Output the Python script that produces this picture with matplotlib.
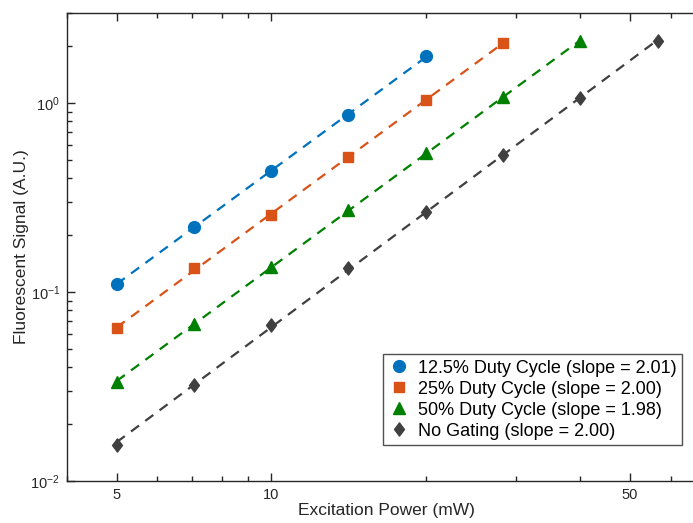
import numpy as np
import matplotlib
matplotlib.use("Agg")
import matplotlib.pyplot as plt
from matplotlib.path import Path
from matplotlib.ticker import LogLocator, NullFormatter, FixedLocator, FixedFormatter

plt.rcParams["font.family"] = ["Liberation Sans", "DejaVu Sans"]
plt.rcParams["mathtext.fontset"] = "custom"
plt.rcParams["mathtext.rm"] = "Liberation Sans"

# excitation power (mW) and fluorescent signal (A.U.)
power = [5.0, 7.07, 10.0, 14.14, 20.0, 28.28, 40.0, 56.57]
sig_125 = [0.111, 0.220, 0.437, 0.867, 1.77]
sig_25 = [0.0644, 0.1336, 0.255, 0.519, 1.04, 2.08]
sig_50 = [0.0336, 0.0674, 0.1355, 0.272, 0.545, 1.08, 2.12]
sig_none = [0.01555, 0.0324, 0.0667, 0.134, 0.265, 0.532, 1.07, 2.12]

labels = ["12.5% Duty Cycle (slope = 2.01)",
          "25% Duty Cycle (slope = 2.00)",
          "50% Duty Cycle (slope = 1.98)",
          "No Gating (slope = 2.00)"]
colors = ["#0072BD", "#D95319", "#008000", "#404040"]

# MATLAB-like diamond, a bit wider than matplotlib's thin one
diamond = Path([(0, 1), (0.75, 0), (0, -1), (-0.75, 0), (0, 1)],
               [Path.MOVETO, Path.LINETO, Path.LINETO, Path.LINETO, Path.CLOSEPOLY])
markers = ["o", "s", "^", diamond]
msizes = [8.5, 6.5, 8.5, 9.5]

W, H = 693, 523
fig = plt.figure(figsize=(W / 100, H / 100), dpi=100)
ax = fig.add_axes([67 / W, 42 / H, (705 - 67) / W, (481 - 13) / H])

for sig, c, m, ms, lab in zip([sig_125, sig_25, sig_50, sig_none], colors, markers, msizes, labels):
    x = np.array(power[:len(sig)])
    y = np.array(sig)
    # linear fit in log-log space
    k, b = np.polyfit(np.log10(x), np.log10(y), 1)
    ax.plot(x, 10 ** (k * np.log10(x) + b), "--", color=c, lw=1.6, dashes=(4.5, 3.5))
    ax.plot(x, y, linestyle="none", marker=m, color=c, ms=ms, mec=c, label=lab)

ax.set_xscale("log")
ax.set_yscale("log")
ax.set_xlim(4, 70)
ax.set_ylim(0.01, 3)

ax.xaxis.set_major_locator(FixedLocator([5, 10, 50]))
ax.xaxis.set_major_formatter(FixedFormatter(["5", "10", "50"]))
ax.xaxis.set_minor_locator(FixedLocator([4, 6, 7, 8, 9, 20, 30, 40, 60, 70]))
ax.xaxis.set_minor_formatter(NullFormatter())
ax.yaxis.set_major_locator(LogLocator(base=10))
ax.yaxis.set_minor_locator(LogLocator(base=10, subs=np.arange(2, 10)))
ax.yaxis.set_minor_formatter(NullFormatter())

ax.tick_params(which="both", direction="in", top=True, right=True,
               colors="#262626", labelsize=10.5, width=1)
ax.tick_params(which="major", length=6, pad=5)
ax.tick_params(which="minor", length=3.5)
for sp in ax.spines.values():
    sp.set_color("#262626")
    sp.set_linewidth(1)

ax.set_xlabel("Excitation Power (mW)", fontsize=12.5, color="#262626", labelpad=1)
ax.set_ylabel("Fluorescent Signal (A.U.)", fontsize=12.5, color="#262626", labelpad=1)

x0 = (383 - 67) / (705 - 67)
y0 = (481 - 445) / (481 - 13)
leg = ax.legend(loc="lower left", bbox_to_anchor=(x0, y0), borderaxespad=0,
                fontsize=13, frameon=True, fancybox=False, handletextpad=0.45,
                handlelength=1.2, borderpad=0.3, labelspacing=0.22)
leg.get_frame().set_edgecolor("#262626")
leg.get_frame().set_linewidth(1)

fig.savefig("out.png", dpi=100)
